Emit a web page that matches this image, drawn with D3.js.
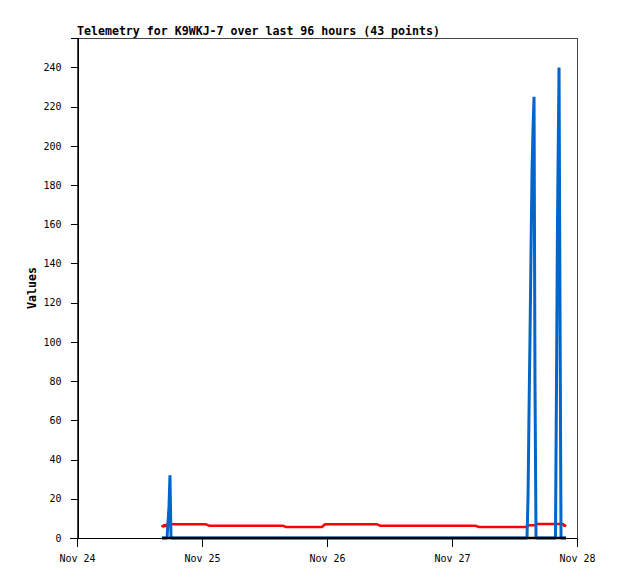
<!DOCTYPE html>
<html>
<head>
<meta charset="utf-8">
<script src="https://cdn.jsdelivr.net/npm/d3@7"></script>
<style>
  html, body { margin: 0; padding: 0; background: #fff; }
  svg { display: block; }
</style>
</head>
<body>
<svg id="chart" width="618" height="579"></svg>
<script>
// ---- data ----
const titleText = "Telemetry for K9WKJ-7 over last 96 hours (43 points)";
const yLabel = "Values";
const times = [
  "2023-11-24T16:19", "2023-11-24T16:31", "2023-11-24T16:48", "2023-11-24T17:00",
  "2023-11-24T17:17", "2023-11-24T17:40", "2023-11-24T17:51", "2023-11-24T18:03",
  "2023-11-25T00:46", "2023-11-25T01:21", "2023-11-25T07:18", "2023-11-25T15:33",
  "2023-11-25T16:08", "2023-11-25T23:02", "2023-11-25T23:37", "2023-11-26T04:25",
  "2023-11-26T09:36", "2023-11-26T10:11", "2023-11-26T17:51", "2023-11-26T21:42",
  "2023-11-27T04:25", "2023-11-27T05:11", "2023-11-27T10:11", "2023-11-27T14:24",
  "2023-11-27T14:36", "2023-11-27T14:47", "2023-11-27T14:59", "2023-11-27T15:10",
  "2023-11-27T15:22", "2023-11-27T15:33", "2023-11-27T15:45", "2023-11-27T15:56",
  "2023-11-27T16:08", "2023-11-27T16:19", "2023-11-27T19:52", "2023-11-27T20:04",
  "2023-11-27T20:15", "2023-11-27T20:33", "2023-11-27T20:44", "2023-11-27T20:56",
  "2023-11-27T21:19", "2023-11-27T21:36", "2023-11-27T21:53"
];
const redValues = [
  6.6, 5.6, 6.8, 5.8, 7.0, 7.0, 7.0, 7.0,
  7.0, 6.3, 6.3, 6.3, 5.6, 5.6, 7.0, 7.0,
  7.0, 6.3, 6.3, 6.3, 6.3, 5.6, 5.6, 5.6,
  6.2, 6.5, 6.5, 6.5, 6.5, 6.5, 6.5, 6.5,
  6.5, 7.1, 7.1, 7.1, 7.1, 7.1, 7.1, 7.1,
  7.1, 6.0, 6.8
];
const blueValues = [
  0, 0, 0, 0, 0, 16, 32, 0,
  0, 0, 0, 0, 0, 0, 0, 0,
  0, 0, 0, 0, 0, 0, 0, 0,
  21, 63, 104, 145, 187, 208, 225, 80,
  0, 0, 0, 80, 160, 240, 120, 0,
  0, 0, 0
];
const blackValues = [
  0, 0, 0, 0, 0, 0, 0, 0,
  0, 0, 0, 0, 0, 0, 0, 0,
  0, 0, 0, 0, 0, 0, 0, 0,
  0, 0, 0, 0, 0, 0, 0, 0,
  0, 0, 0, 0, 0, 0, 0, 0,
  0, 0, 0
];
const xDomain = ["2023-11-24T00:00", "2023-11-28T00:00"];
const yDomain = [0, 255];
const yTicks = [0, 20, 40, 60, 80, 100, 120, 140, 160, 180, 200, 220, 240];
const xTicks = ["2023-11-24T00:00", "2023-11-25T00:00", "2023-11-26T00:00", "2023-11-27T00:00", "2023-11-28T00:00"];

// ---- layout ----
const pLeft = 77, pRight = 577, pTop = 38, pBottom = 538;
const parse = d3.utcParse("%Y-%m-%dT%H:%M");
const svg = d3.select("#chart");

const x = d3.scaleUtc().domain(xDomain.map(parse)).range([pLeft, pRight]);
const y = d3.scaleLinear().domain(yDomain).range([pBottom, pTop]);

const mono = "'DejaVu Sans Mono', 'Liberation Mono', monospace";

// frame
svg.append("rect")
  .attr("x", pLeft + 0.5).attr("y", pTop + 0.5)
  .attr("width", pRight - pLeft).attr("height", pBottom - pTop)
  .attr("fill", "none").attr("stroke", "#444").attr("stroke-width", 1)
  .attr("shape-rendering", "crispEdges");

// title
svg.append("text")
  .attr("x", pLeft).attr("y", 35)
  .attr("font-family", mono).attr("font-size", "11.6px").attr("font-weight", "bold")
  .attr("fill", "#000")
  .text(titleText);

// y label
svg.append("text")
  .attr("transform", `translate(36,${(pTop + pBottom) / 2}) rotate(-90)`)
  .attr("text-anchor", "middle")
  .attr("font-family", mono).attr("font-size", "11.6px").attr("font-weight", "bold")
  .attr("fill", "#000")
  .text(yLabel);

// axes
const yAxis = d3.axisLeft(y).tickValues(yTicks).tickSize(7).tickPadding(9).tickFormat(d3.format("d"));
const gy = svg.append("g").attr("transform", `translate(${pLeft + 0.5},0)`).call(yAxis);
const xAxis = d3.axisBottom(x).tickValues(xTicks.map(parse)).tickSize(8).tickPadding(8)
  .tickFormat(d3.utcFormat("%b %d"));
const gx = svg.append("g").attr("transform", `translate(0,${pBottom + 0.5})`).call(xAxis);

[gx, gy].forEach(g => {
  g.select(".domain").attr("stroke", "#000").attr("shape-rendering", "crispEdges");
  g.selectAll(".tick line").attr("stroke", "#000").attr("shape-rendering", "crispEdges");
  g.selectAll(".tick text").attr("font-family", mono).attr("font-size", "10px").attr("fill", "#000");
});
gx.select(".domain").attr("d", `M${pLeft - 7},0H${pRight}`);

// series
const pts = times.map(parse);
function addSeries(values, color, width) {
  const line = d3.line().x((d, i) => x(pts[i])).y(d => y(d));
  svg.append("path")
    .datum(values)
    .attr("d", line)
    .attr("fill", "none")
    .attr("stroke", color)
    .attr("stroke-width", width)
    .attr("stroke-linejoin", "bevel");
}
addSeries(redValues, "#ff0000", 2.5);
addSeries(blueValues, "#0066cc", 3);
addSeries(blackValues, "#000000", 2.5);
</script>
</body>
</html>
